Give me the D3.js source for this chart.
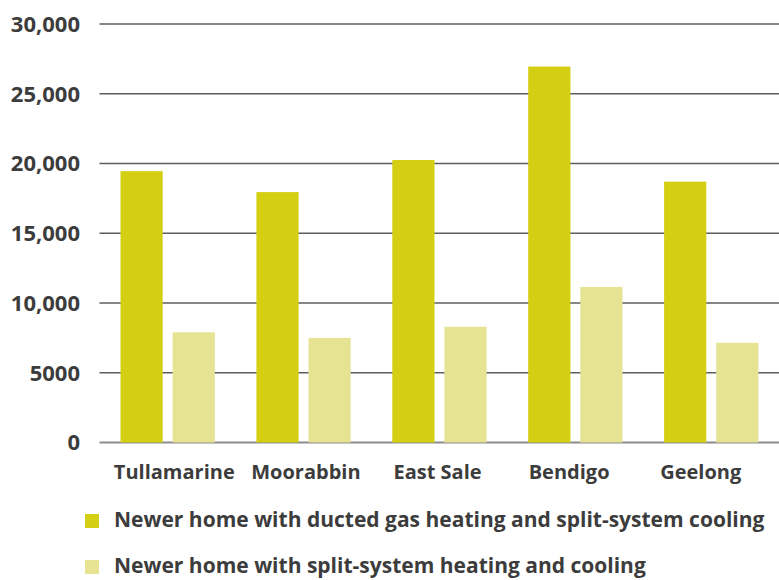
<!DOCTYPE html>
<html>
<head>
<meta charset="utf-8">
<script src="https://cdn.jsdelivr.net/npm/d3@7"></script>
<style>
  body { margin: 0; background: #fff; }
  text { font-family: "Open Sans", "Lato", sans-serif; font-weight: 700; fill: #3c3c3c; }
</style>
</head>
<body>
<div id="chart"></div>
<script>
// data
var locations = ["Tullamarine", "Moorabbin", "East Sale", "Bendigo", "Geelong"];
var seriesNames = ["Newer home with ducted gas heating and split-system cooling",
                   "Newer home with split-system heating and cooling"];
var ductedGas = [19450, 17950, 20250, 26950, 18700];
var splitSystem = [7900, 7500, 8300, 11150, 7150];
var yTicks = [0, 5000, 10000, 15000, 20000, 25000, 30000];
var colors = ["#d4cf12", "#e6e393"];

var width = 779, height = 580;
var margin = { left: 99.5, right: 0, top: 24, bottom: 137.5 };
var plotW = width - margin.left - margin.right;
var plotH = height - margin.top - margin.bottom;

var svg = d3.select("#chart")
  .append("svg")
    .attr("width", width)
    .attr("height", height)
  .append("g")
    .attr("transform", "translate(" + margin.left + "," + margin.top + ")");

var data = locations.map((d, i) => ({ loc: d, values: [ductedGas[i], splitSystem[i]] }));

// scales
var x0 = d3.scaleBand()
  .domain(locations)
  .range([0, plotW])
  .padding(0);

var x1 = d3.scaleBand()
  .domain([0, 1])
  .range([21, x0.bandwidth() - 20.6])
  .paddingInner(0.19);

// category labels sit on a slightly narrower spacing than the bars
var xLabel = d3.scaleBand()
  .domain(locations)
  .range([9, 667]);

var y = d3.scaleLinear()
  .domain([0, 30000])
  .range([plotH, 0]);

// grid lines
svg.append("g")
  .selectAll("line")
  .data(yTicks)
  .enter()
    .append("line")
    .attr("x1", 0)
    .attr("x2", plotW)
    .attr("y1", d => y(d))
    .attr("y2", d => y(d))
    .attr("stroke", d => d === 0 ? "#8c8c8c" : "#5e5e5e")
    .attr("stroke-width", d => d === 0 ? 2 : 1.4);

// y tick labels
svg.append("g")
  .selectAll("text")
  .data(yTicks)
  .enter()
    .append("text")
    .attr("x", -19.5)
    .attr("y", d => y(d))
    .attr("dy", "0.36em")
    .style("text-anchor", "end")
    .style("font-size", "22px")
    .text(d => d >= 10000 ? d3.format(",")(d) : d);

// bars
svg.append("g")
  .selectAll("g")
  .data(data)
  .enter()
    .append("g")
    .attr("transform", d => "translate(" + x0(d.loc) + ",0)")
  .selectAll("rect")
  .data(d => d.values.map((v, k) => ({ k: k, v: v })))
  .enter()
    .append("rect")
    .attr("x", d => x1(d.k))
    .attr("y", d => y(d.v))
    .attr("width", x1.bandwidth())
    .attr("height", d => y(0) - y(d.v))
    .attr("fill", d => colors[d.k]);

// x labels
svg.append("g")
  .selectAll("text")
  .data(locations)
  .enter()
    .append("text")
    .attr("x", d => xLabel(d) + xLabel.bandwidth() / 2)
    .attr("y", plotH + 36)
    .style("text-anchor", "middle")
    .style("font-size", "20px")
    .text(d => d);

// legend
var legend = svg.append("g")
  .attr("transform", "translate(" + (-margin.left) + "," + (-margin.top) + ")")
  .selectAll("g")
  .data(seriesNames)
  .enter()
    .append("g")
    .attr("transform", (d, i) => "translate(85," + (514 + i * 46) + ")");

legend.append("rect")
  .attr("width", 14)
  .attr("height", 14)
  .attr("fill", (d, i) => colors[i]);

legend.append("text")
  .attr("x", 29)
  .attr("y", 13)
  .style("font-size", "21px")
  .text(d => d);
</script>
</body>
</html>
